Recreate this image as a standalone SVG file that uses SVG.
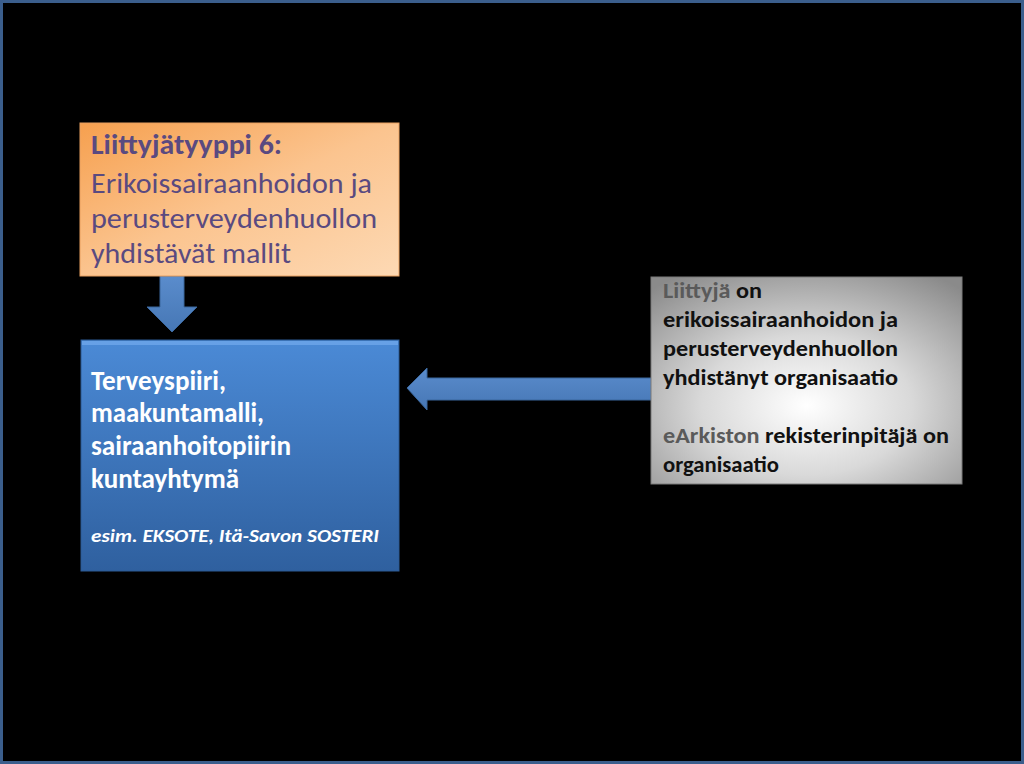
<svg xmlns="http://www.w3.org/2000/svg" width="1024" height="764" viewBox="0 0 1024 764">
<style>
.t{font-family:Carlito,Lato,"Open Sans",sans-serif}
.or{font-size:29px;fill:#5a4a80}
.bl{font-size:28px;font-weight:bold;fill:#ffffff}
.gr{font-size:22px;font-weight:bold;fill:#111111}
.gy{fill:#5a5a5a}
.arrow{fill:url(#arrowGrad);stroke:#3b679c;stroke-width:1}
</style>
<defs>
<linearGradient id="orangeGrad" x1="0" y1="0" x2="1" y2="1">
<stop offset="0" stop-color="#f6a04f"/>
<stop offset="0.5" stop-color="#fbc48f"/>
<stop offset="1" stop-color="#fdd9b4"/>
</linearGradient>
<linearGradient id="blueGrad" x1="0" y1="0" x2="0" y2="1">
<stop offset="0" stop-color="#4b8ad6"/>
<stop offset="1" stop-color="#2f609f"/>
</linearGradient>
<radialGradient id="grayGrad" cx="0.5" cy="0.62" r="0.75">
<stop offset="0" stop-color="#ffffff"/>
<stop offset="0.45" stop-color="#d9d9d9"/>
<stop offset="1" stop-color="#8a8a8a"/>
</radialGradient>
<linearGradient id="arrowGrad" x1="0" y1="0" x2="0" y2="1">
<stop offset="0" stop-color="#5a8ccc"/>
<stop offset="1" stop-color="#4677b5"/>
</linearGradient>
</defs>
<rect x="1.5" y="1.5" width="1021" height="761" fill="#000000" stroke="#3b5e8c" stroke-width="3"/>
<g id="connectors">
<polygon class="arrow" points="160,276 184,276 184,307 197,307 172,332 147,307 160,307"/>
<polygon class="arrow" points="407,388 427,368 427,378 652,378 652,400 427,400 427,410"/>
</g>
<g id="node-liittyjatyyppi">
<rect x="80" y="123" width="319" height="153" fill="url(#orangeGrad)" stroke="#e8a060" stroke-width="1"/>
<text class="t or" x="91" y="154" font-weight="bold" textLength="191" lengthAdjust="spacingAndGlyphs">Liittyjätyyppi 6:</text>
<text class="t or" x="91" y="193" textLength="281" lengthAdjust="spacingAndGlyphs">Erikoissairaanhoidon ja</text>
<text class="t or" x="91" y="228" textLength="286" lengthAdjust="spacingAndGlyphs">perusterveydenhuollon</text>
<text class="t or" x="91" y="263" textLength="200" lengthAdjust="spacingAndGlyphs">yhdistävät mallit</text>
</g>
<g id="node-terveyspiiri">
<rect x="81" y="340" width="318" height="231" fill="url(#blueGrad)" stroke="#2c5a94" stroke-width="1"/>
<rect x="82" y="341" width="316" height="4" fill="#6ea6ea" opacity="0.8"/>
<text class="t bl" x="91" y="390" textLength="135" lengthAdjust="spacingAndGlyphs">Terveyspiiri,</text>
<text class="t bl" x="91" y="422" textLength="173" lengthAdjust="spacingAndGlyphs">maakuntamalli,</text>
<text class="t bl" x="91" y="455" textLength="200" lengthAdjust="spacingAndGlyphs">sairaanhoitopiirin</text>
<text class="t bl" x="91" y="488" textLength="148" lengthAdjust="spacingAndGlyphs">kuntayhtymä</text>
<text class="t" x="91" y="542" font-size="18" font-weight="bold" font-style="italic" fill="#ffffff" textLength="288" lengthAdjust="spacingAndGlyphs">esim. EKSOTE, Itä-Savon SOSTERI</text>
</g>
<g id="node-liittyja">
<rect x="651" y="277" width="311" height="207" fill="url(#grayGrad)" stroke="#7a7a7a" stroke-width="1"/>
<text class="t gr" x="663" y="298" textLength="99" lengthAdjust="spacingAndGlyphs"><tspan class="gy">Liittyjä</tspan> on</text>
<text class="t gr" x="663" y="327" textLength="235" lengthAdjust="spacingAndGlyphs">erikoissairaanhoidon ja</text>
<text class="t gr" x="663" y="356" textLength="235" lengthAdjust="spacingAndGlyphs">perusterveydenhuollon</text>
<text class="t gr" x="663" y="385" textLength="235" lengthAdjust="spacingAndGlyphs">yhdistänyt organisaatio</text>
<text class="t gr" x="663" y="443" textLength="286" lengthAdjust="spacingAndGlyphs"><tspan class="gy">eArkiston</tspan> rekisterinpitäjä on</text>
<text class="t gr" x="663" y="472" textLength="116" lengthAdjust="spacingAndGlyphs">organisaatio</text>
</g>
</svg>
